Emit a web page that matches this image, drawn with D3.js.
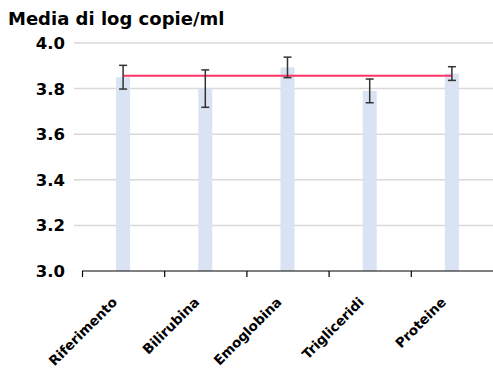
<!DOCTYPE html>
<html>
<head>
<meta charset="utf-8">
<script src="https://cdn.jsdelivr.net/npm/d3@7"></script>
<style>
  html, body { margin: 0; padding: 0; background: #fff; }
  svg { display: block; }
  text { font-family: "DejaVu Sans", Lato, sans-serif; font-weight: bold; fill: #000; }
</style>
</head>
<body>
<svg id="chart" width="493" height="369"></svg>
<script>
// Mean log copies/ml per interferent, with error-bar half widths
const categories = ["Riferimento", "Bilirubina", "Emoglobina", "Trigliceridi", "Proteine"];
const means = [3.850, 3.800, 3.893, 3.790, 3.866];
const errors = [0.052, 0.082, 0.045, 0.052, 0.030];
const referenceLevel = 3.856;
const yTicks = [3.0, 3.2, 3.4, 3.6, 3.8, 4.0];
const title = "Media di log copie/ml";

const svg = d3.select("#chart");
const margin = { left: 82, right: 0, top: 43, bottom: 98 };
const W = 493, H = 369;

const x = d3.scaleBand().domain(categories).range([margin.left, W - margin.right]).paddingInner(0).paddingOuter(0);
const y = d3.scaleLinear().domain([3.0, 4.0]).range([H - margin.bottom, margin.top]);

// title
svg.append("text").attr("x", 8).attr("y", 25).attr("font-size", 18).text(title);

// horizontal gridlines
svg.append("g").selectAll("line").data(yTicks.filter(t => t > 3.0)).join("line")
  .attr("x1", 74).attr("x2", W - margin.right)
  .attr("y1", d => y(d)).attr("y2", d => y(d))
  .attr("stroke", "#d9d9d9").attr("stroke-width", 1.5);

// y tick labels
svg.append("g").selectAll("text").data(yTicks).join("text")
  .attr("x", 65).attr("y", d => y(d)).attr("dy", "0.36em")
  .attr("text-anchor", "end").attr("font-size", 16.5)
  .text(d => d3.format(".1f")(d));

// bars
const barW = 14;
svg.append("g").selectAll("rect").data(categories).join("rect")
  .attr("x", (d) => x(d) + x.bandwidth() / 2 - barW / 2)
  .attr("width", barW)
  .attr("y", (d, i) => y(means[i]))
  .attr("height", (d, i) => y(3.0) - y(means[i]))
  .attr("fill", "#dae3f3");

// x axis with ticks at band boundaries
const xAxisG = svg.append("g").attr("transform", `translate(0,${y(3.0)})`);
xAxisG.append("line").attr("x1", margin.left).attr("x2", W).attr("stroke", "#000").attr("stroke-width", 1.2);
const boundaries = categories.map(c => x(c));
xAxisG.selectAll(".tk").data(boundaries).join("line").attr("class", "tk")
  .attr("x1", d => d + 0.5).attr("x2", d => d + 0.5).attr("y1", 0).attr("y2", 6)
  .attr("stroke", "#000").attr("stroke-width", 1.2);

// category labels rotated
svg.append("g").selectAll("text").data(categories).join("text")
  .attr("transform", d => `translate(${x(d) + x.bandwidth() / 2 - 5},${y(3.0) + 32}) rotate(-45)`)
  .attr("text-anchor", "end").attr("font-size", 13.5)
  .text(d => d);

// reference line from first to last bar centre
const cx = d => x(d) + x.bandwidth() / 2;
svg.append("line")
  .attr("x1", cx(categories[0])).attr("x2", cx(categories[categories.length - 1]))
  .attr("y1", y(referenceLevel)).attr("y2", y(referenceLevel))
  .attr("stroke", "#ff3366").attr("stroke-width", 2);

// error bars
const eg = svg.append("g").attr("stroke", "#333").attr("stroke-width", 1.5);
categories.forEach((c, i) => {
  const xc = cx(c);
  const top = y(means[i] + errors[i]), bot = y(means[i] - errors[i]);
  eg.append("line").attr("x1", xc).attr("x2", xc).attr("y1", top).attr("y2", bot);
  eg.append("line").attr("x1", xc - 4).attr("x2", xc + 4).attr("y1", top).attr("y2", top);
  eg.append("line").attr("x1", xc - 4).attr("x2", xc + 4).attr("y1", bot).attr("y2", bot);
});
</script>
</body>
</html>
